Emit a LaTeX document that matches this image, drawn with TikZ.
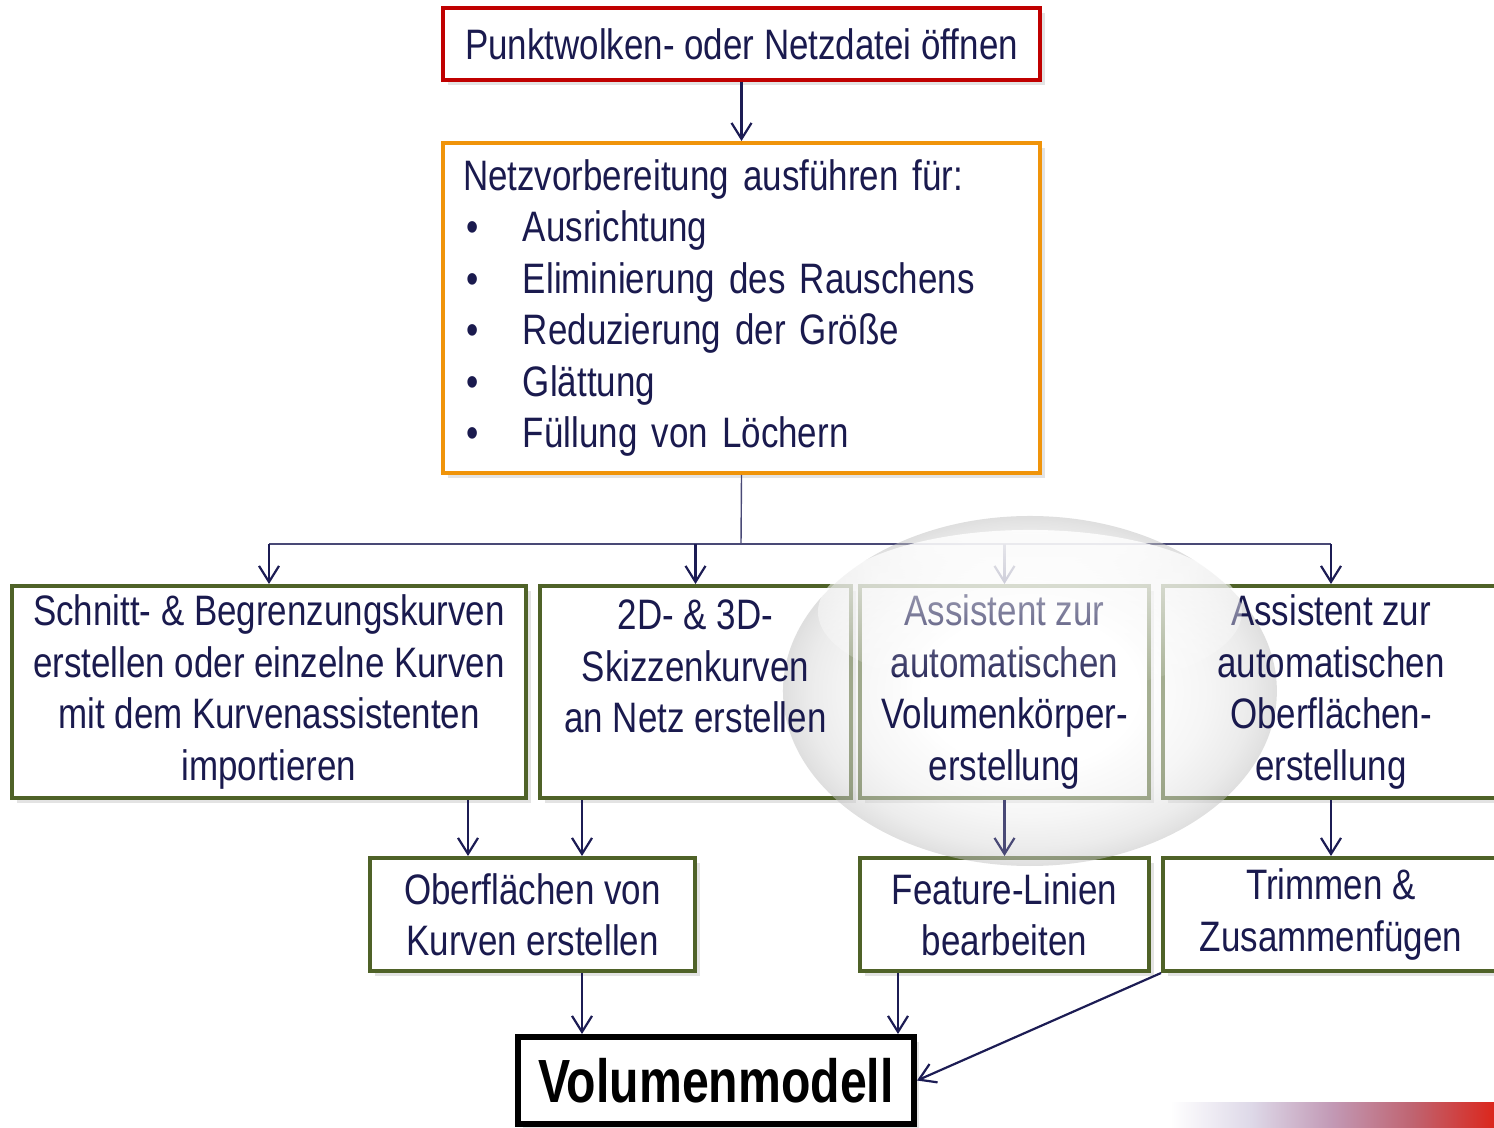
\documentclass[tikz,border=0pt]{standalone}
\usepackage{fontspec}
\setmainfont{Liberation Sans}[FakeStretch=0.82]
\newfontfamily\vfont{Liberation Sans}[FakeStretch=0.79]
\usetikzlibrary{arrows.meta,calc,shadows,fadings}
\definecolor{txt}{RGB}{26,26,78}
\definecolor{arrc}{RGB}{28,28,84}
\definecolor{grn}{RGB}{79,98,40}
\definecolor{redb}{RGB}{192,0,0}
\definecolor{orng}{RGB}{240,148,10}
\pgfdeclareradialshading{ballshade}{\pgfpoint{0bp}{0bp}}{color(0bp)=(white); color(11bp)=(white); color(18bp)=(black!7); color(22.5bp)=(black!15); color(25bp)=(black!24); color(50bp)=(black!24)}
\pgfdeclareradialshading{ringshadeF}{\pgfpoint{0bp}{0bp}}{color(0bp)=(white!48!black); color(25bp)=(white!52!black); color(40bp)=(white!60!black); color(50bp)=(white!72!black)}
\pgfdeclarefading{ringfade}{\pgfuseshading{ringshadeF}}
\tikzfading[name=topfade, top color=transparent!12, bottom color=transparent!100]
\pgfdeclarehorizontalshading{barshade}{100bp}{rgb(0bp)=(1,1,1); rgb(25bp)=(1,1,1); rgb(37.5bp)=(0.87,0.85,0.91); rgb(50bp)=(0.76,0.6,0.71); rgb(62.5bp)=(0.75,0.39,0.44); rgb(75bp)=(0.86,0.15,0.11); rgb(100bp)=(0.86,0.15,0.11)}
\tikzset{
  box/.style={draw, line width=2pt, fill=white, inner sep=0pt, text=txt,
    font=\fontsize{21.3}{25.7}\selectfont, align=center,
    drop shadow={shadow xshift=2.5pt, shadow yshift=-2.5pt, opacity=0.22}},
  gbox/.style={box, draw=grn},
  tx/.style={text=txt, font=\fontsize{21.3}{25.7}\selectfont, align=center, inner sep=0pt},
  arr/.style={draw=arrc, line width=1.1pt, -{Straight Barb[length=8pt,width=10pt,line width=1.1pt]}},
  ln/.style={draw=arrc!80, line width=0.7pt}
}
\begin{document}
\begin{tikzpicture}[x=0.5pt,y=-0.5pt]
\useasboundingbox (0,0) rectangle (1494,1128);
\clip (0,0) rectangle (1494,1128);
% top boxes
\node[box, draw=redb, minimum width=298.5pt, minimum height=36pt] (P) at (741.5,44) {Punktwolken- oder Netzdatei öffnen};
\node[box, draw=orng, minimum width=298.5pt, minimum height=165pt, text width=278.5pt, align=left] (N) at (741.5,308)
  {Netzvorbereitung ausführen für:\\
   \makebox[30pt][l]{\hspace{1.5pt}•}Ausrichtung\\
   \makebox[30pt][l]{\hspace{1.5pt}•}Eliminierung des Rauschens\\
   \makebox[30pt][l]{\hspace{1.5pt}•}Reduzierung der Größe\\
   \makebox[30pt][l]{\hspace{1.5pt}•}Glättung\\
   \makebox[30pt][l]{\hspace{1.5pt}•}Füllung von Löchern};
% row 1
\node[gbox, minimum width=257pt, minimum height=106pt] (A) at (269,692)
  {Schnitt- \& Begrenzungskurven\\erstellen oder einzelne Kurven\\mit dem Kurvenassistenten\\importieren};
\node[gbox, minimum width=155.5pt, minimum height=106pt] (B) at (695.5,692) {};
\node[gbox, minimum width=144.5pt, minimum height=106pt] (C) at (1004.5,692) {};
\node[gbox, minimum width=168pt, minimum height=106pt] (D) at (1331,692) {};
% row 2
\node[gbox, minimum width=162.5pt, minimum height=56.5pt] (E) at (532.5,914.5)
  {Oberflächen von\\Kurven erstellen};
\node[gbox, minimum width=144.5pt, minimum height=56.5pt] (F) at (1004.5,914.5)
  {Feature-Linien\\bearbeiten};
\node[gbox, minimum width=168pt, minimum height=56.5pt] (G) at (1331,914.5)
  {Trimmen \&\\Zusammenfügen};
% result
\node[box, draw=black, line width=3pt, text=black, minimum width=198pt, minimum height=43.5pt,
  font=\fontsize{30.5}{31}\vfont\bfseries] (V) at (716,1080.5) {Volumenmodell};
% connectors
\draw[arr] (P.south) -- (N.north);
\coordinate (hub) at (741,544);
\draw[ln] (N.south) -- (hub);
\draw[ln] (A.north |- hub) -- (D.north |- hub);
\draw[arr] (A.north |- hub) -- (A.north);
\draw[arr] (B.north |- hub) -- (B.north);
\draw[arr] (C.north |- hub) -- (C.north);
\draw[arr] (D.north |- hub) -- (D.north);
\coordinate (a1) at ($(A.south)+(199,0)$);
\coordinate (b1) at ($(B.south)+(-113.5,0)$);
\coordinate (e1) at ($(E.south)+(49.5,0)$);
\coordinate (f1) at ($(F.south)+(-106.5,0)$);
\draw[arr] (a1) -- (a1 |- E.north);
\draw[arr] (b1) -- (b1 |- E.north);
\draw[arr] (D.south) -- (G.north);
\draw[arr] (e1) -- (e1 |- V.north);
\draw[arr] (f1) -- (f1 |- V.north);
\draw[arr] (G.south west) -- (V.east);
% glass ellipse
\shade[shading=ballshade, path fading=ringfade, fit fading=true] (1030,691) ellipse [x radius=247, y radius=175];
\draw[arr, draw=arrc!80] (C.south) -- (F.north);
% texts above the glass
\node[tx] (Bt) at (B) {2D- \& 3D-\\Skizzenkurven\\an Netz erstellen\\\mbox{}};
\node[tx] (Ct) at (C) {Assistent zur\\automatischen\\Volumenkörper-\\erstellung};
\node[tx] (Dt) at (D) {Assistent zur\\automatischen\\Oberflächen-\\erstellung};
% glossy highlight
\fill[white, path fading=topfade, fit fading=true] (1030,612) ellipse [x radius=212, y radius=82];
% gradient bar
\shade[shading=barshade] (1170,1102) rectangle (1494,1130);
\end{tikzpicture}
\end{document}
